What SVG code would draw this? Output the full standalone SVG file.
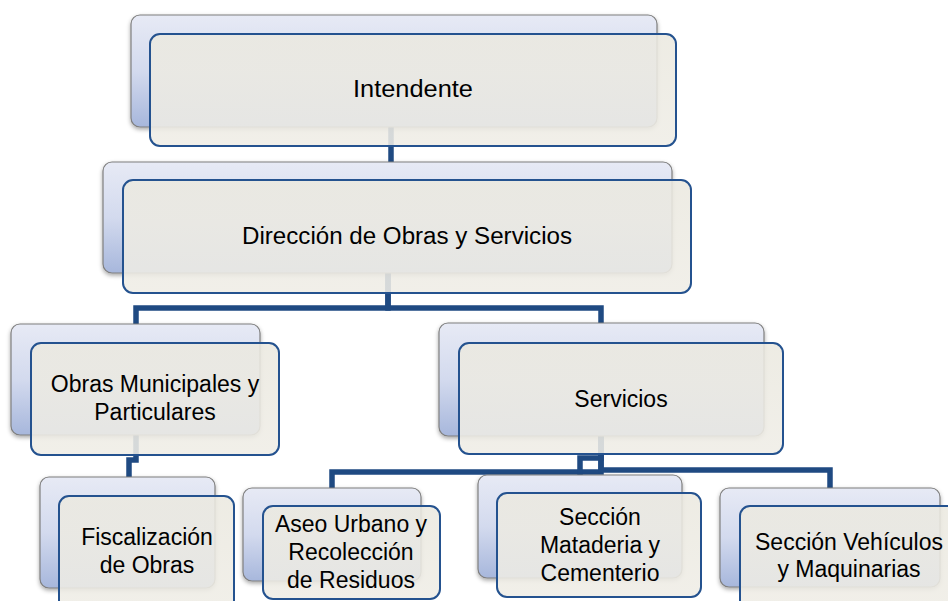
<svg xmlns="http://www.w3.org/2000/svg" width="948" height="601" viewBox="0 0 948 601">
<defs>
<linearGradient id="backGrad" x1="0" y1="0" x2="0" y2="1">
<stop offset="0" stop-color="#E7EAF5"/>
<stop offset="0.5" stop-color="#D3DAEE"/>
<stop offset="1" stop-color="#A7B7DC"/>
</linearGradient>
<linearGradient id="frontGrad" x1="0" y1="0" x2="0" y2="1">
<stop offset="0" stop-color="#EBE9E0"/>
<stop offset="1" stop-color="#EFEDE6"/>
</linearGradient>
<filter id="shadow" x="-10%" y="-10%" width="120%" height="130%">
<feDropShadow dx="0" dy="2" stdDeviation="2" flood-color="#000" flood-opacity="0.35"/>
</filter>
</defs>
<style>
.back{fill:url(#backGrad);stroke:#7F7F7F;stroke-width:1.2;filter:url(#shadow)}
.front{fill:url(#frontGrad);fill-opacity:0.88;stroke:#24528F;stroke-width:2}
.conn{fill:none;stroke:#1F4A82;stroke-width:5.5;stroke-linejoin:miter}
.lbl{font-family:"Liberation Sans",Arial,sans-serif;font-size:23px;fill:#000;text-anchor:middle}
</style>
<rect width="948" height="601" fill="#FFFFFF"/>
<g id="connectors">
<path class="conn" d="M391 127 V162"/>
<path class="conn" d="M388 273 V308 H136 V324"/>
<path class="conn" d="M388 273 V308 H601 V323"/>
<path class="conn" d="M136 435 V460 H129 V477"/>
<path class="conn" d="M601 436 V472 H332 V488"/>
<path class="conn" d="M601 436 V458 H580 V475"/>
<path class="conn" d="M601 436 V470 H830 V488"/>
</g>
<g id="node-intendente">
<rect class="back" x="131" y="15" width="526" height="112" rx="9"/>
<rect class="front" x="150" y="34" width="526" height="112" rx="10"/>
<text class="lbl" x="413" y="97" textLength="120" lengthAdjust="spacingAndGlyphs">Intendente</text>
</g>
<g id="node-direccion">
<rect class="back" x="103" y="162" width="569" height="111" rx="9"/>
<rect class="front" x="123" y="180" width="568" height="113" rx="10"/>
<text class="lbl" x="407" y="244" textLength="330" lengthAdjust="spacingAndGlyphs">Dirección de Obras y Servicios</text>
</g>
<g id="node-obras">
<rect class="back" x="11" y="324" width="249" height="111" rx="9"/>
<rect class="front" x="31" y="343" width="248" height="112" rx="10"/>
<text class="lbl" x="155" y="392">Obras Municipales y</text>
<text class="lbl" x="155" y="420">Particulares</text>
</g>
<g id="node-servicios">
<rect class="back" x="439" y="323" width="325" height="113" rx="9"/>
<rect class="front" x="459" y="343" width="324" height="111" rx="10"/>
<text class="lbl" x="621" y="407">Servicios</text>
</g>
<g id="node-fiscalizacion">
<rect class="back" x="40" y="477" width="175" height="111" rx="9"/>
<rect class="front" x="59" y="496" width="175" height="115" rx="10"/>
<text class="lbl" x="147" y="545">Fiscalización</text>
<text class="lbl" x="147" y="573">de Obras</text>
</g>
<g id="node-aseo">
<rect class="back" x="243" y="488" width="178" height="93" rx="9"/>
<rect class="front" x="263" y="506" width="177" height="93" rx="10"/>
<text class="lbl" x="351" y="532">Aseo Urbano y</text>
<text class="lbl" x="351" y="560">Recolección</text>
<text class="lbl" x="351" y="588">de Residuos</text>
</g>
<g id="node-mataderia">
<rect class="back" x="478" y="475" width="204" height="103" rx="9"/>
<rect class="front" x="497" y="493" width="204" height="104" rx="10"/>
<text class="lbl" x="600" y="525">Sección</text>
<text class="lbl" x="600" y="553">Mataderia y</text>
<text class="lbl" x="600" y="581">Cementerio</text>
</g>
<g id="node-vehiculos">
<rect class="back" x="720" y="488" width="220" height="99" rx="9"/>
<rect class="front" x="740" y="506" width="220" height="105" rx="10"/>
<text class="lbl" x="849" y="550">Sección Vehículos</text>
<text class="lbl" x="849" y="577">y Maquinarias</text>
</g>
</svg>
